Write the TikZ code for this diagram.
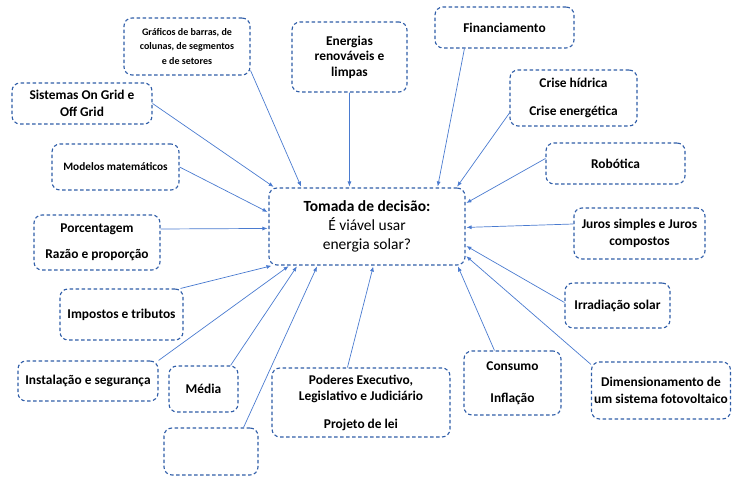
\documentclass[tikz,border=0pt]{standalone}
\usepackage{fontspec}
\setmainfont{Carlito}
\usetikzlibrary{arrows.meta}

\definecolor{caixaazul}{HTML}{2F5DA8}
\definecolor{setaazul}{HTML}{4A7BD0}

\begin{document}
\begin{tikzpicture}[x=1pt,y=-1pt,>={Latex[length=5pt,width=4pt]},
    caixa/.style={draw=caixaazul,dash pattern=on 3.5pt off 2.5pt,line width=1.1pt,
      rounded corners=8pt,inner sep=0pt,align=center,
      font=\fontsize{13.4}{16.5}\selectfont\bfseries},
    seta/.style={->,draw=setaazul,line width=0.7pt,shorten >=1pt}]
      \useasboundingbox (0,0) rectangle (732,478);

      % caixa central
      \node[caixa,minimum width=196pt,minimum height=77pt,
        font=\fontsize{15.5}{19}\selectfont] (dec) at (367,226.5)
        {\textbf{Tomada de decisão:}\\É viável usar\\energia solar?};

      % lado esquerdo
      \node[caixa,minimum width=126pt,minimum height=57pt,
        font=\fontsize{10}{14.3}\selectfont\bfseries] (graf) at (187,46.5)
        {Gráficos de barras, de\\colunas, de segmentos\\e de setores};
      \node[caixa,minimum width=115pt,minimum height=70pt,
        font=\fontsize{13.4}{15.5}\selectfont\bfseries] (ener) at (349.5,57)
        {Energias\\renováveis e\\limpas};
      \node[caixa,minimum width=140pt,minimum height=41pt] (sist) at (82,103.5)
        {Sistemas On Grid e\\Off Grid};
      \node[caixa,minimum width=127pt,minimum height=46pt,
        font=\fontsize{11.3}{14}\selectfont\bfseries] (mod) at (115.5,167)
        {Modelos matemáticos};
      \node[caixa,minimum width=126pt,minimum height=55pt] (porc) at (97,242.5)
        {Porcentagem\\[9.5pt]Razão e proporção};
      \node[caixa,minimum width=123pt,minimum height=51pt] (imp) at (121.5,314.5)
        {Impostos e tributos};
      \node[caixa,minimum width=140pt,minimum height=40pt] (inst) at (88,381)
        {Instalação e segurança};
      \node[caixa,minimum width=69pt,minimum height=46pt] (med) at (203.5,389)
        {Média};
      \node[caixa,minimum width=94pt,minimum height=47pt] (vazio) at (211,451.5) {};

      % lado direito
      \node[caixa,minimum width=139pt,minimum height=41pt] (fin) at (504.5,27.5)
        {Financiamento};
      \node[caixa,minimum width=127pt,minimum height=56pt] (cris) at (573.5,98)
        {Crise hídrica\\[11.5pt]Crise energética};
      \node[caixa,minimum width=139pt,minimum height=41pt] (rob) at (615.5,163.5)
        {Robótica};
      \node[caixa,minimum width=131pt,minimum height=51pt] (juros) at (639.5,233.5)
        {Juros simples e Juros\\compostos};
      \node[caixa,minimum width=105pt,minimum height=45pt] (irr) at (617.5,305.5)
        {Irradiação solar};
      \node[caixa,minimum width=139pt,minimum height=57pt] (dim) at (661,390.5)
        {Dimensionamento de\\um sistema fotovoltaico};
      \node[caixa,minimum width=97pt,minimum height=64pt] (cons) at (512.5,383)
        {Consumo\\[15.5pt]Inflação};
      \node[caixa,minimum width=178pt,minimum height=69pt] (pod) at (361,402.5)
        {Poderes Executivo,\\Legislativo e Judiciário\\[11pt]Projeto de lei};

      % setas
      \draw[seta] ([yshift=5pt]graf.south east) -- ([xshift=33pt]dec.north west);
      \draw[seta] (ener.south) -- ([xshift=81pt]dec.north west);
      \draw[seta] (sist.east) -- ([xshift=6pt]dec.north west);
      \draw[seta] (mod.east) -- ([yshift=-25pt]dec.north west);
      \draw[seta] ([yshift=13.5pt]porc.east) -- ([yshift=-41pt]dec.north west);
      \draw[seta] ([xshift=-3pt]imp.north east) -- ([xshift=4pt]dec.south west);
      \draw[seta] (inst.north east) -- ([xshift=21pt]dec.south west);
      \draw[seta] ([xshift=-8pt]med.north east) -- ([xshift=29pt]dec.south west);
      \draw[seta] ([xshift=-15pt]vazio.north east) -- ([xshift=49pt]dec.south west);
      \draw[seta] ([xshift=76pt]pod.north west) -- ([xshift=105pt]dec.south west);
      \draw[seta] ([xshift=30pt]fin.south west) -- ([xshift=-28pt]dec.north east);
      \draw[seta] ([yshift=-15pt]cris.west) -- ([xshift=-9pt]dec.north east);
      \draw[seta] ([yshift=5pt]rob.west) -- ([yshift=-16pt]dec.north east);
      \draw[seta] ([yshift=9.5pt]juros.west) -- ([yshift=-40pt]dec.north east);
      \draw[seta] ([yshift=3pt]irr.west) -- ([yshift=20pt]dec.south east);
      \draw[seta] ([yshift=-3pt]dim.north west) -- ([yshift=10pt]dec.south east);
      \draw[seta] ([xshift=31pt]cons.north west) -- ([xshift=-8pt]dec.south east);
\end{tikzpicture}
\end{document}
